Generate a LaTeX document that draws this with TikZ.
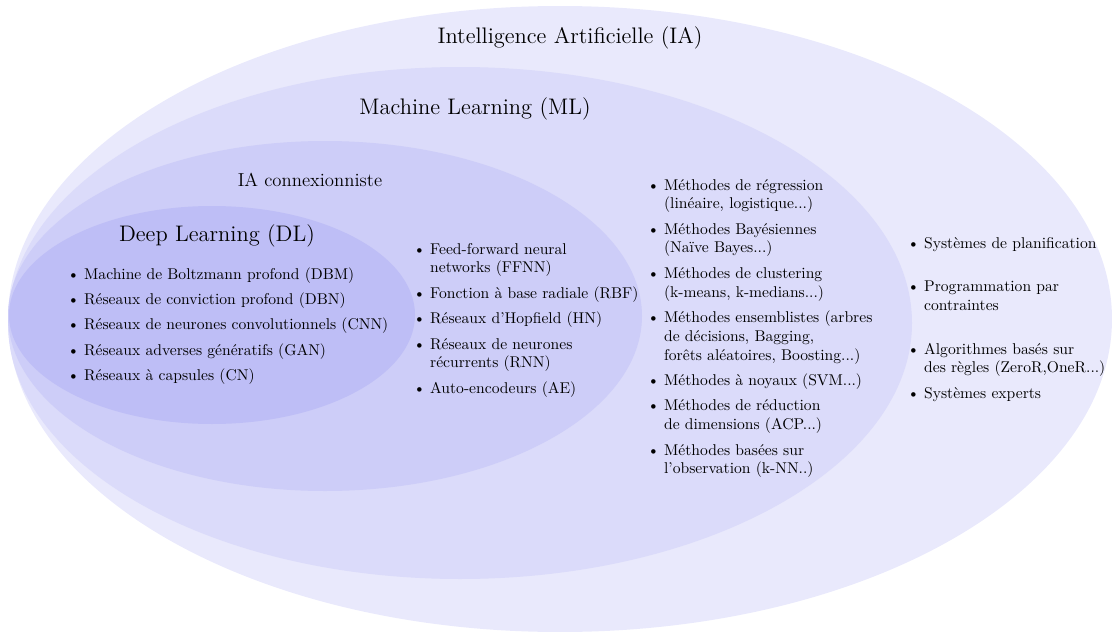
\documentclass[tikz,border=0pt]{standalone}
\usepackage{fontspec}
\usepackage{tikz}

\definecolor{iafill}{RGB}{233,233,252}
\definecolor{mlfill}{RGB}{219,219,250}
\definecolor{cnfill}{RGB}{205,205,248}
\definecolor{dlfill}{RGB}{190,190,246}

\tikzset{
  title/.style={font=\Large, inner sep=0pt},
  itemlist/.style={anchor=base west, inner sep=0pt, align=left}
}

\begin{document}
\begin{tikzpicture}[x=0.0225cm, y=-0.0225cm]
  \useasboundingbox (0,0) rectangle (1112,632);
  % nested domains
  \fill[iafill] (560,319) ellipse [x radius=552, y radius=313];
  \fill[mlfill] (460,323) ellipse [x radius=452, y radius=256];
  \fill[cnfill] (325,316) ellipse [x radius=317, y radius=175];
  \fill[dlfill] (212,315) ellipse [x radius=203, y radius=109];

  \node[title] (ia) at (570,38) {Intelligence Artificielle (IA)};
  \node[title] (ml) at (475,109) {Machine Learning (ML)};
  \node[title, font=\large] (cn) at (310,180) {IA connexionniste};
  \node[title] (dl) at (217,236) {Deep Learning (DL)};

  \node[itemlist] (dllist) at (67,279) {\begin{tabular}[t]{@{}l@{\hspace{3pt}}l@{}}
    \textbullet & Machine de Boltzmann profond (DBM)\\[4.3pt]
    \textbullet & Réseaux de conviction profond (DBN)\\[4.3pt]
    \textbullet & Réseaux de neurones convolutionnels (CNN)\\[4.3pt]
    \textbullet & Réseaux adverses génératifs (GAN)\\[4.3pt]
    \textbullet & Réseaux à capsules (CN)
  \end{tabular}};

  \node[itemlist] (cnlist) at (413,254) {\begin{tabular}[t]{@{}l@{\hspace{3pt}}l@{}}
    \textbullet & Feed-forward neural\\
                & networks (FFNN)\\[4.3pt]
    \textbullet & Fonction à base radiale (RBF)\\[4.3pt]
    \textbullet & Réseaux d’Hopfield (HN)\\[4.3pt]
    \textbullet & Réseaux de neurones\\
                & récurrents (RNN)\\[4.3pt]
    \textbullet & Auto-encodeurs (AE)
  \end{tabular}};

  \node[itemlist] (mllist) at (647,190) {\begin{tabular}[t]{@{}l@{\hspace{3pt}}l@{}}
    \textbullet & Méthodes de régression\\
                & (linéaire, logistique...)\\[4.3pt]
    \textbullet & Méthodes Bayésiennes\\
                & (Naïve Bayes...)\\[4.3pt]
    \textbullet & Méthodes de clustering\\
                & (k-means, k-medians...)\\[4.3pt]
    \textbullet & Méthodes ensemblistes (arbres\\
                & de décisions, Bagging,\\
                & forêts aléatoires, Boosting...)\\[4.3pt]
    \textbullet & Méthodes à noyaux (SVM...)\\[4.3pt]
    \textbullet & Méthodes de réduction\\
                & de dimensions (ACP...)\\[4.3pt]
    \textbullet & Méthodes basées sur\\
                & l’observation (k-NN..)
  \end{tabular}};

  \node[itemlist] (ialist) at (907,248) {\begin{tabular}[t]{@{}l@{\hspace{3pt}}l@{}}
    \textbullet & Systèmes de planification\\[16pt]
    \textbullet & Programmation par\\
                & contraintes\\[16pt]
    \textbullet & Algorithmes basés sur\\
                & des règles (ZeroR,OneR...)\\[4.3pt]
    \textbullet & Systèmes experts
  \end{tabular}};
\end{tikzpicture}
\end{document}
